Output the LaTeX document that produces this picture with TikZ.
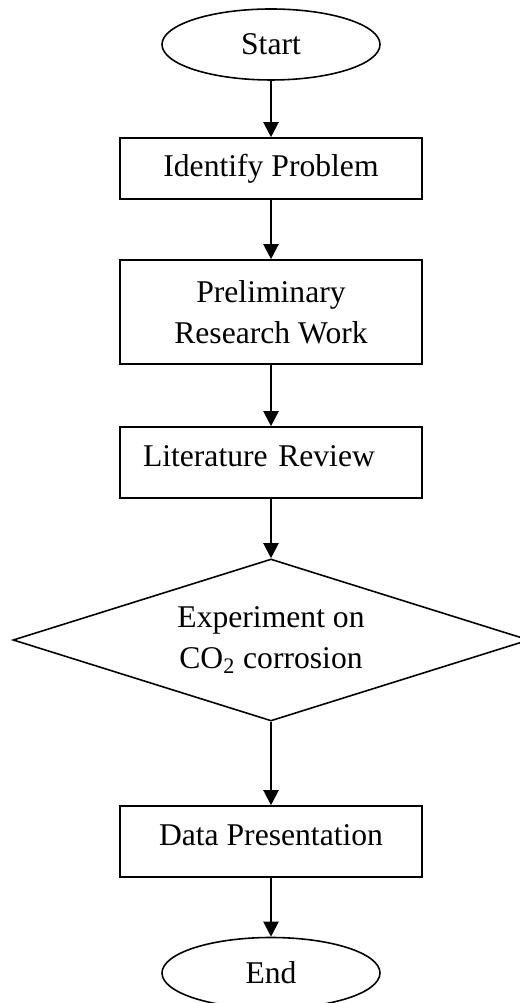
\documentclass[tikz,border=0pt]{standalone}
\usepackage{fontspec}
\setmainfont{Liberation Serif}
\usetikzlibrary{shapes.geometric,arrows.meta}

\begin{document}
\begin{tikzpicture}[
	every node/.style={font=\fontsize{18}{23.3}\selectfont},
	stepbox/.style={draw,line width=0.9pt,minimum width=6.04cm,inner sep=0pt,align=center},
	terminal/.style={draw,ellipse,line width=0.9pt,minimum width=4.36cm,minimum height=1.42cm,inner sep=0pt},
	decision/.style={draw,diamond,aspect=3.19,line width=0.9pt,minimum width=10.32cm,minimum height=3.24cm,inner sep=0pt,align=center},
	flow/.style={line width=1.2pt,-{Triangle[length=0.3cm,width=0.3cm]}}
	]
	\useasboundingbox (0,0) rectangle (10.38,20.06);

	%TERMINALS
	\node[terminal] (start) at (5.42,19.17) {Start};
	\node[terminal] (stop) at (5.42,0.60) {End};

	%PROCESS BOXES
	\node[stepbox,minimum height=1.22cm] (ident) at (5.42,16.69) {Identify Problem};
	\node[stepbox,minimum height=2.08cm] (prelim) at (5.42,13.82) {Preliminary\\Research Work};
	\node[stepbox,minimum height=1.42cm,text width=5.12cm,inner xsep=0.46cm,align=left,text depth=0.24cm] (litrev) at (5.42,10.81) {Literature Review};
	\node[stepbox,minimum height=1.42cm,text depth=0.26cm] (datapres) at (5.42,3.23) {Data Presentation};

	%DECISION
	\node[decision] (expt) at (5.42,7.26) {Experiment on\\CO\textsubscript{2} corrosion};

	%ARROWS
	\foreach \a/\b in {start/ident,ident/prelim,prelim/litrev,litrev/expt,expt/datapres,datapres/stop}{
		\draw[flow] (\a) -- (\b); %connectors
	}	%end foreach
\end{tikzpicture}
\end{document}
